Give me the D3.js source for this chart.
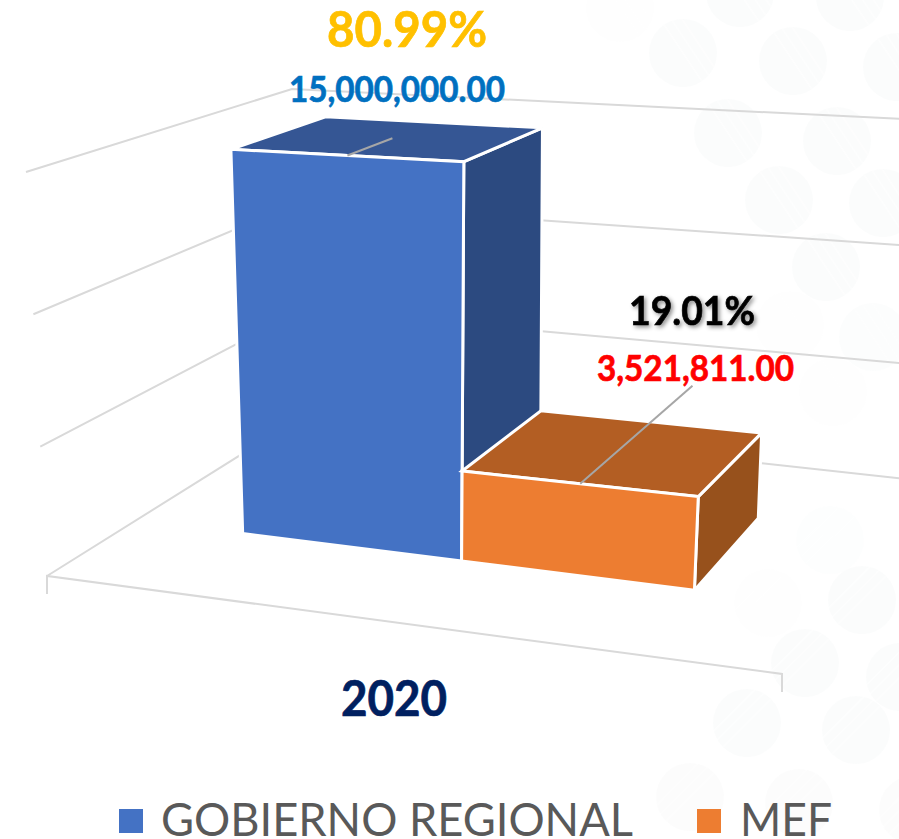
<!DOCTYPE html>
<html>
<head>
<meta charset="utf-8">
<style>
html,body{margin:0;padding:0;background:#fff;overflow:hidden}
svg{display:block}
text{font-family:Lato,"Open Sans",sans-serif}
</style>
<script src="https://cdn.jsdelivr.net/npm/d3@7/dist/d3.min.js"></script>
</head>
<body>
<svg id="chart" width="899" height="839"></svg>
<script>
// ---- data ----
const categories = ["2020"];
const seriesNames = ["GOBIERNO REGIONAL", "MEF"];
const seriesValues = [15000000, 3521811];
const percentLabels = ["80.99%", "19.01%"];
const axisTicks = [0, 5000000, 10000000, 15000000];

// ---- styles ----
const frontColors = ["#4472C4", "#ED7D31"];
const topColors = ["#355694", "#B35E23"];
const sideColors = ["#2C4A80", "#97511C"];
const valueColors = ["#0070C0", "#FF0000"];
const percentColors = ["#FFC000", "#000000"];
const gridColor = "#D9D9D9";

// ---- layout of the perspective box: [x, y] of its eight corners on screen ----
const box = {
  floorFrontLeft: [47, 576], floorFrontRight: [782, 674],
  floorBackLeft: [306, 414], floorBackRight: [925, 481],
  topFrontLeft: [26, 172], topFrontRight: [811, 215],
  topBackLeft: [292, 89], topBackRight: [945, 121]
};
const lerp = (a, b, t) => [a[0] + (b[0] - a[0]) * t, a[1] + (b[1] - a[1]) * t];
// u: left-right, v: height, w: front-back (all 0..1)
function project(u, v, w) {
  const floor = lerp(lerp(box.floorFrontLeft, box.floorFrontRight, u), lerp(box.floorBackLeft, box.floorBackRight, u), w);
  const top = lerp(lerp(box.topFrontLeft, box.topFrontRight, u), lerp(box.topBackLeft, box.topBackRight, u), w);
  return lerp(floor, top, v);
}
const yScale = d3.scaleLinear().domain(axisTicks).range([0, 0.32, 0.648, 1]);
const xEdge = d3.scaleLinear().domain([0, 1, 2]).range([0.153, 0.468, 0.803]);
const zScale = d3.scaleLinear().domain([0, 1]).range([0.345, 0.73]);

const svg = d3.select("#chart");
const line = d3.line();
const closed = d3.line().curve(d3.curveLinearClosed);

// ---- faint background pattern ----
const bgCircles = [
  [683,53,1,1],[793,61,1,1],[897,67,1,1],[740,-7,1,1],[850,-3,1,1],[728,133,1,1],[837,141,1,1],
  [779,200,1,1],[883,203,1,1],[826,267,1,1],[873,337,.7,1],[620,8,.35,1],[790,325,.25,1],
  [833,392,.25,1],[830,540,.4,-1],[768,603,.3,-1],[862,600,1,-1],[900,677,1,-1],[805,663,1,-1],
  [747,723,1,-1],[856,730,1,-1],[690,797,.8,-1],[799,803,.8,-1],[913,810,.8,-1]
];
const bg = svg.append("g");
bg.selectAll("circle").data(bgCircles).join("circle")
  .attr("cx", d => d[0]).attr("cy", d => d[1]).attr("r", 34)
  .attr("fill", "#fafbfb").attr("opacity", d => d[2] * 0.85);
bg.selectAll("g").data(bgCircles).join("g").each(function (d) {
  const k = Math.SQRT1_2;
  d3.select(this).selectAll("line").data([-18, -9, 0]).join("line")
    .each(function (o) {
      const h = Math.sqrt(34 * 34 - o * o);
      const dx = k, dy = d[3] > 0 ? k * 1.5 : -k;
      const nx = -dy, ny = dx, len = Math.hypot(dx, dy);
      const cx = d[0] + nx / len * o, cy = d[1] + ny / len * o;
      d3.select(this)
        .attr("x1", cx - dx / len * h).attr("y1", cy - dy / len * h)
        .attr("x2", cx + dx / len * h).attr("y2", cy + dy / len * h);
    })
    .attr("stroke", "#fff").attr("stroke-width", 1.5).attr("opacity", d[2] * .5);
});

// ---- walls / gridlines ----
const grid = svg.append("g").attr("fill", "none").attr("stroke", gridColor).attr("stroke-width", 2);
grid.selectAll("path.g").data(axisTicks).join("path").attr("class", "g")
  .attr("d", t => line([project(0, yScale(t), 0), project(0, yScale(t), 1), project(1, yScale(t), 1)]));
const fl = project(0, 0, 0), fr = project(1, 0, 0);
const tickLen = 18;
grid.append("path").attr("d", line([[fl[0], fl[1] + tickLen], fl, fr, [fr[0], fr[1] + tickLen]]));

// ---- 3D bars ----
const bars = svg.append("g").selectAll("g").data(seriesValues).join("g")
  .attr("stroke", "#fff").attr("stroke-width", 3).attr("stroke-linejoin", "miter");
bars.each(function (val, i) {
  const g = d3.select(this);
  const u0 = xEdge(i), u1 = xEdge(i + 1), v = yScale(val), w0 = zScale(0), w1 = zScale(1);
  g.append("path").attr("fill", sideColors[i])
    .attr("d", closed([project(u1, 0, w0), project(u1, v, w0), project(u1, v, w1), project(u1, 0, w1)]));
  g.append("path").attr("fill", topColors[i])
    .attr("d", closed([project(u0, v, w0), project(u1, v, w0), project(u1, v, w1), project(u0, v, w1)]));
  g.append("path").attr("fill", frontColors[i])
    .attr("d", closed([project(u0, 0, w0), project(u1, 0, w0), project(u1, v, w0), project(u0, v, w0)]));
});

// ---- leader lines ----
const leaderDepth = [0.52, 1.58];
svg.append("g").selectAll("path").data(seriesValues).join("path")
  .attr("fill", "none").attr("stroke", "#A6A6A6").attr("stroke-width", 2)
  .attr("d", (val, i) => {
    const u = (xEdge(i) + xEdge(i + 1)) / 2, v = yScale(val);
    return line([project(u, v, zScale(0)), project(u, v, zScale(leaderDepth[i]))]);
  });

// ---- labels ----
const fmt = d3.format(",.2f");
const valuePos = [[397, 102], [695.5, 381]];
const valueWidth = [216, 197];
const valueSize = [37, 37];
const pctPos = [[407, 47], [692, 325]];
const pctWidth = [160, 126];
const pctSize = [49, 40];

function label(txt, x, y, size, width, fill, weight) {
  return svg.append("text").text(txt).attr("x", x).attr("y", y)
    .attr("text-anchor", "middle").attr("font-size", size).attr("font-weight", weight)
    .attr("fill", fill).attr("stroke", fill).attr("stroke-width", 0.7)
    .attr("textLength", width).attr("lengthAdjust", "spacingAndGlyphs");
}
seriesValues.forEach((val, i) => {
  label(fmt(val), valuePos[i][0], valuePos[i][1], valueSize[i], valueWidth[i], valueColors[i], 700);
  const p = label(percentLabels[i], pctPos[i][0], pctPos[i][1], pctSize[i], pctWidth[i], percentColors[i], 700);
  if (i === 1) p.style("filter", "drop-shadow(2px 2px 2px rgba(0,0,0,.45))");
});

// category label
label(categories[0], 394, 716, 50, 106, "#002060", 700);

// ---- legend ----
const legendSwatchX = [119, 697];
const legendTextX = [161, 740];
const legendTextW = [472, 92];
const legendG = svg.append("g");
seriesNames.forEach((name, i) => {
  legendG.append("rect").attr("x", legendSwatchX[i]).attr("y", 809).attr("width", 24).attr("height", 24).attr("fill", frontColors[i]);
  legendG.append("text").text(name).attr("x", legendTextX[i]).attr("y", 836)
    .attr("font-size", 46).attr("fill", "#595959")
    .attr("textLength", legendTextW[i]).attr("lengthAdjust", "spacingAndGlyphs");
});
</script>
</body>
</html>
